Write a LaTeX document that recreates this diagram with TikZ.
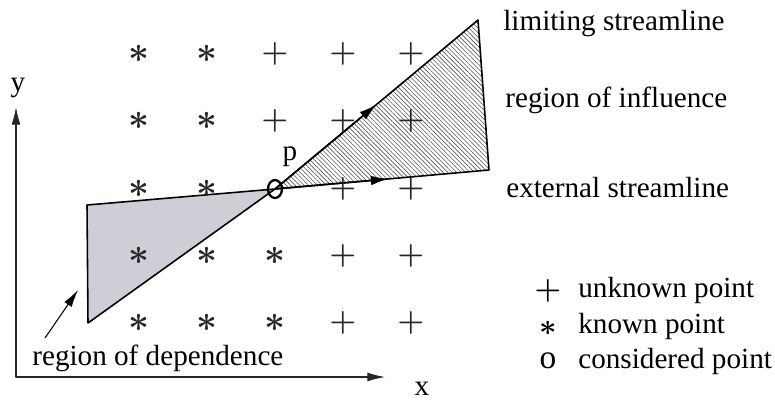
\documentclass[tikz,border=0pt]{standalone}
\usepackage{fontspec}
\setmainfont{Liberation Serif}
\usetikzlibrary{arrows.meta,patterns.meta,shapes.geometric,calc}

\definecolor{depgrey}{RGB}{206,206,214}
\newcommand{\ptfont}{\fontsize{16.6}{19}\selectfont}
\newcommand{\symfont}{\fontsize{18}{20}\selectfont\boldmath}

\tikzset{
  lbl/.style={font=\ptfont,inner sep=0pt},
  ptu/.style={font=\symfont,black!85,inner sep=0pt,node contents={$+$}},
  ptk/.style={font=\fontsize{21}{23}\selectfont\boldmath,black!85,inner sep=0pt,node contents={$\ast$}},
  ptc/.style={draw,ellipse,line width=1.3pt,inner sep=0pt,
    minimum width=14*0.02cm,minimum height=18*0.02cm,node contents={}},
  depregion/.style={fill=depgrey,draw,line width=0.9pt,line join=round},
  infregion/.style={pattern={Lines[angle=-45,distance=1.8pt,line width=0.35pt]},
    pattern color=black!65,draw,line width=0.9pt,line join=round},
  axis/.style={line width=0.6pt,black!85},
}

\begin{document}
\begin{tikzpicture}[x=0.02cm,y=-0.02cm,line cap=round,>={Latex[length=10pt,width=5pt]}]
  \useasboundingbox (0,0) rectangle (775,400);
  % key points
  \coordinate (p) at (275,189);
  \coordinate (dtop) at (87,205);
  \coordinate (dbot) at (88,323);
  \coordinate (lim) at (478,20);
  \coordinate (ext) at (489,170);
  \coordinate (orig) at (16,377);
  \coordinate (xend) at (385,377);
  \coordinate (yend) at (16,107);

  % regions
  \draw[depregion] (dtop) -- (p) -- (dbot) -- cycle;
  \draw[infregion] (p) -- (lim) -- (ext) -- cycle;
  \draw[line width=0.9pt,-{Latex[length=10pt,width=5.5pt]}] (p) -- ($(p)!0.5!(lim)$);
  \draw[line width=0.9pt,-{Latex[length=10pt,width=5.5pt]}] (p) -- ($(p)!0.53!(ext)$);

  % axes
  \draw[axis,->] (orig) -- (xend);
  \draw[axis,->] (orig) -- (yend);
  \node[lbl,anchor=base] (ylab) at (18,91) {y};
  \node[lbl,anchor=base] (xlab) at (422,395) {x};

  % grid points
  \foreach \r/\y/\kinds in {1/54/{k,k,u,u,u},2/121/{k,k,u,u,u},3/189/{k,k,c,u,u},
                            4/256/{k,k,k,u,u},5/323/{k,k,k,u,u}}
    \foreach \k [count=\c] in \kinds
      \node (g-\c-\r) at ({139+68*(\c-1)},\y) [pt\k];
  \node[lbl,anchor=base] (plab) at (290,160) {p};

  % labels
  \node[lbl,anchor=base west] (limlab) at (503,30) {limiting streamline};
  \node[lbl,anchor=base west] (inflab) at (505,107) {region of influence};
  \node[lbl,anchor=base west] (extlab) at (506,197) {external streamline};
  \node[lbl,anchor=base west] (deplab) at (32,365) {region of dependence};
  \coordinate (dtail) at (45,338);
  \coordinate (dtip) at (78,290);
  \draw[line width=0.6pt,->] (dtail) -- (dtip);

  % legend
  \node[lbl,font=\fontsize{16}{18}\selectfont\boldmath,anchor=center] (symu) at (548,291) {$+$};
  \node[lbl,font=\symfont,anchor=base] (symk) at (548,335) {$\ast$};
  \node[lbl,font=\fontsize{19}{21}\selectfont,anchor=base] (symc) at (548,368) {o};
  \node[lbl,anchor=base west] (legu) at (578,297) {unknown point};
  \node[lbl,anchor=base west] (legk) at (578,333) {known point};
  \node[lbl,anchor=base west] (legc) at (578,368) {considered point};
\end{tikzpicture}
\end{document}
